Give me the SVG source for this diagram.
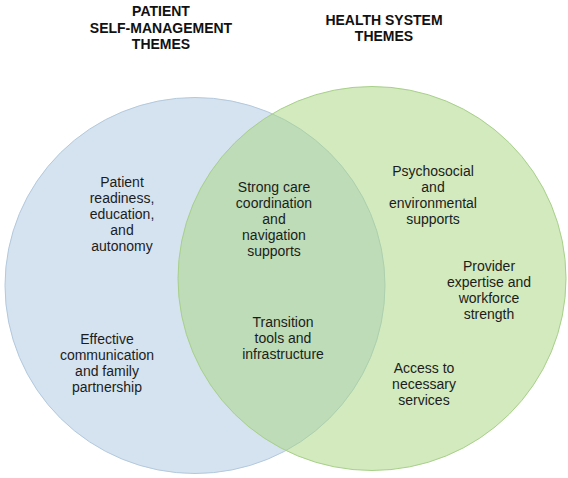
<svg xmlns="http://www.w3.org/2000/svg" width="568" height="478" viewBox="0 0 568 478">
<style>
text{font-family:"Liberation Sans",Arial,sans-serif;font-size:14px;fill:#1c1c1c;text-anchor:middle}
.t{font-weight:bold;fill:#111}
</style>
<rect width="568" height="478" fill="#fff"/>
<g id="left-circle">
<ellipse cx="195" cy="285.5" rx="190" ry="188" fill="#d5e3f0" stroke="#b3c9dd" stroke-width="1"/>
</g>
<g id="right-circle">
<ellipse cx="372" cy="278.5" rx="194" ry="192" fill="#a5d57d" fill-opacity="0.5" stroke="#a8d08a" stroke-width="1"/>
</g>
<g id="title-left">
<text class="t" x="161" y="16">PATIENT</text>
<text class="t" x="161" y="33">SELF-MANAGEMENT</text>
<text class="t" x="161" y="49">THEMES</text>
</g>
<g id="title-right">
<text class="t" x="384" y="25">HEALTH SYSTEM</text>
<text class="t" x="384" y="41">THEMES</text>
</g>
<g id="patient-readiness">
<text x="122" y="187">Patient</text>
<text x="122" y="203">readiness,</text>
<text x="122" y="219">education,</text>
<text x="122" y="235">and</text>
<text x="122" y="251">autonomy</text>
</g>
<g id="effective-communication">
<text x="107" y="344">Effective</text>
<text x="107" y="360">communication</text>
<text x="107" y="376">and family</text>
<text x="107" y="392">partnership</text>
</g>
<g id="strong-care">
<text x="274" y="192">Strong care</text>
<text x="274" y="208">coordination</text>
<text x="274" y="224">and</text>
<text x="274" y="240">navigation</text>
<text x="274" y="256">supports</text>
</g>
<g id="transition-tools">
<text x="283" y="327">Transition</text>
<text x="283" y="343">tools and</text>
<text x="283" y="359">infrastructure</text>
</g>
<g id="psychosocial">
<text x="433" y="176">Psychosocial</text>
<text x="433" y="192">and</text>
<text x="433" y="208">environmental</text>
<text x="433" y="224">supports</text>
</g>
<g id="provider-expertise">
<text x="489" y="271">Provider</text>
<text x="489" y="287">expertise and</text>
<text x="489" y="303">workforce</text>
<text x="489" y="319">strength</text>
</g>
<g id="access-services">
<text x="424" y="373">Access to</text>
<text x="424" y="389">necessary</text>
<text x="424" y="405">services</text>
</g>
<g id="connectors"></g>
</svg>
